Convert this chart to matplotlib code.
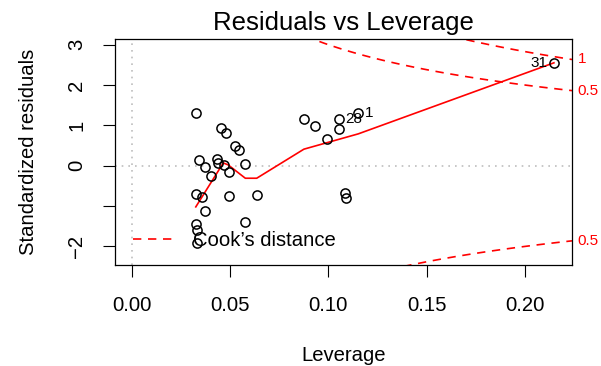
import numpy as np
import matplotlib
matplotlib.use("Agg")
import matplotlib.pyplot as plt
from matplotlib.lines import Line2D
from matplotlib.transforms import blended_transform_factory

plt.rcParams['font.family'] = ['Liberation Sans', 'DejaVu Sans']

# leverage (hat values) and standardized residuals
leverage = [0.0327, 0.0342, 0.0374, 0.0405, 0.0435, 0.0440, 0.0453, 0.0480,
            0.0468, 0.0493, 0.0525, 0.0544, 0.0578, 0.0326, 0.0358, 0.0495,
            0.0637, 0.0374, 0.0578, 0.0326, 0.0332, 0.0334, 0.0876, 0.0934,
            0.0992, 0.1054, 0.1054, 0.1150, 0.1086, 0.1088, 0.2148]
std_resid = [1.30, 0.14, -0.04, -0.25, 0.16, 0.07, 0.94, 0.80,
             0.02, -0.15, 0.49, 0.39, 0.04, -0.71, -0.77, -0.75,
             -0.72, -1.13, -1.40, -1.45, -1.60, -1.91, 1.17, 0.99,
             0.65, 1.15, 0.92, 1.31, -0.67, -0.79, 2.55]

# labelled observations: (id, index into the arrays above, side)
point_ids = [("28", 25, "right"), ("1", 27, "right"), ("31", 30, "left")]

# red smoother
smooth_x = [0.0326, 0.0466, 0.0491, 0.0578, 0.0636, 0.0876, 0.1153, 0.2148]
smooth_y = [-1.02, 0.07, 0.02, -0.31, -0.31, 0.41, 0.79, 2.55]

cook_levels = [0.5, 1.0]
n_params = 2

xlim = (-0.0085, 0.2240)
ylim = (-2.46, 3.14)
xticks = [0.00, 0.05, 0.10, 0.15, 0.20]
yticks = [-2, -1, 0, 1, 2, 3]
ytick_labels = ["\u22122", "", "0", "1", "2", "3"]

RED = "#FF0000"
GREY = "#BEBEBE"
FS = 14.6
DASH = (0, (5, 4))


def main():
    fig = plt.figure(figsize=(6.01, 3.66), dpi=100)
    ax = fig.add_axes([115 / 601, 101 / 366, 457 / 601, 226 / 366])

    ax.set_xlim(*xlim)
    ax.set_ylim(*ylim)

    # reference lines
    ax.axhline(0, color=GREY, lw=1.2, ls=(0, (1, 3)), zorder=1)
    ax.axvline(0, color=GREY, lw=1.2, ls=(0, (1, 3)), zorder=1)

    # Cook's distance contours
    hh = np.linspace(0.01, xlim[1], 101)
    for level in cook_levels:
        cl = np.sqrt(level * n_params * (1 - hh) / hh)
        ax.plot(hh, cl, color=RED, lw=1.2, ls=DASH, zorder=2)
        ax.plot(hh, -cl, color=RED, lw=1.2, ls=DASH, zorder=2)

    ax.plot(smooth_x, smooth_y, color=RED, lw=1.2, zorder=3)
    ax.plot(leverage, std_resid, "o", mfc="none", mec="black", ms=6.6,
            mew=1.1, zorder=4)

    for label, i, side in point_ids:
        dx = 4.8 if side == "right" else -4.8
        ha = "left" if side == "right" else "right"
        ax.annotate(label, (leverage[i], std_resid[i]), xytext=(dx, 0),
                    textcoords="offset points", ha=ha, va="center",
                    fontsize=FS * 0.75)

    # contour levels in the right margin
    trans = blended_transform_factory(ax.transAxes, ax.transData)
    h_end = xlim[1]
    for level in cook_levels:
        y = np.sqrt(level * n_params * (1 - h_end) / h_end)
        ax.text(1.012, y, "{:g}".format(level), transform=trans, color=RED,
                ha="left", va="center", fontsize=FS * 0.75, clip_on=False)
        if -y > ylim[0]:
            ax.text(1.012, -y, "{:g}".format(level), transform=trans,
                    color=RED, ha="left", va="center", fontsize=FS * 0.75,
                    clip_on=False)

    handle = Line2D([], [], color=RED, lw=1.2, ls=DASH)
    ax.legend([handle], ["Cook\u2019s distance"], loc="center left",
              bbox_to_anchor=(0.039, 0.1075), frameon=False, fontsize=FS,
              handlelength=2.0, handletextpad=0.95, borderpad=0,
              borderaxespad=0)

    ax.set_xticks(xticks)
    ax.set_xticklabels(["{:.2f}".format(t) for t in xticks])
    ax.set_yticks(yticks)
    ax.set_yticklabels(ytick_labels, rotation=90, va="center")
    ax.tick_params(axis="both", direction="out", length=8.6, width=0.8,
                   labelsize=FS)
    ax.tick_params(axis="x", pad=14)
    ax.tick_params(axis="y", pad=12)
    for sp in ax.spines.values():
        sp.set_linewidth(0.9)

    ax.set_title("Residuals vs Leverage", fontsize=18.5, pad=6.5)
    ax.set_xlabel("Leverage", fontsize=FS, labelpad=22)
    ax.set_ylabel("Standardized residuals", fontsize=FS, labelpad=21)

    fig.savefig("out.png", dpi=100)


if __name__ == "__main__":
    main()
